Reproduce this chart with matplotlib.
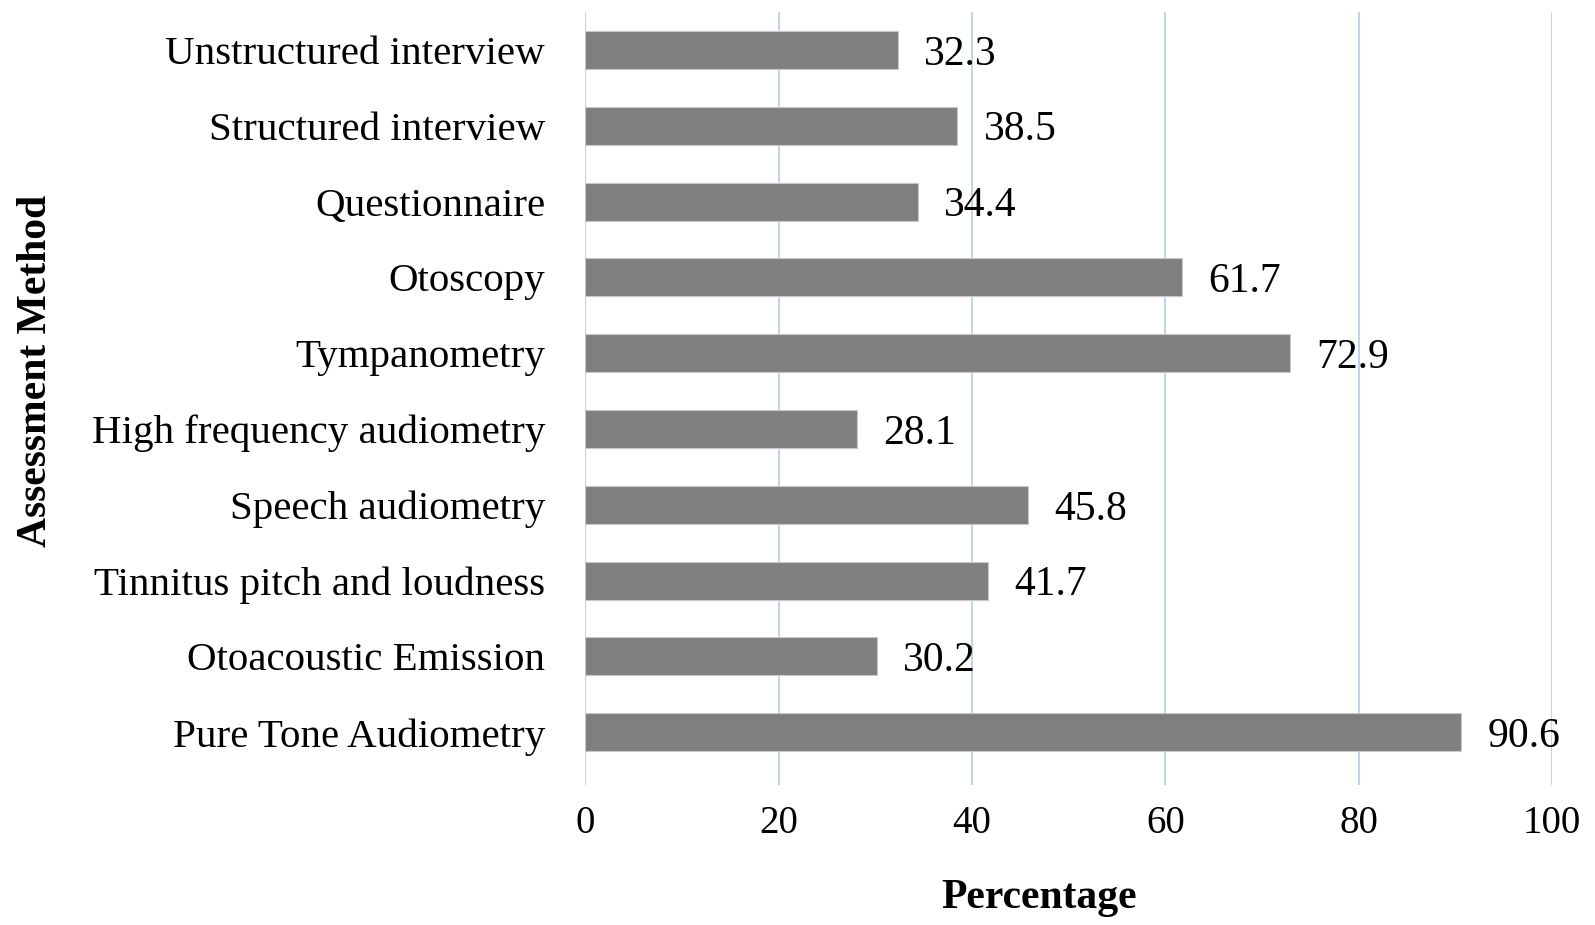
import matplotlib.pyplot as plt

methods = ["Pure Tone Audiometry", "Otoacoustic Emission", "Tinnitus pitch and loudness",
           "Speech audiometry", "High frequency audiometry", "Tympanometry", "Otoscopy",
           "Questionnaire", "Structured interview", "Unstructured interview"]
percent = [90.6, 30.2, 41.7, 45.8, 28.1, 72.9, 61.7, 34.4, 38.5, 32.3]
xticks = [0, 20, 40, 60, 80, 100]

plt.rcParams['font.family'] = ['Liberation Serif', 'DejaVu Serif']

fig = plt.figure(figsize=(15.95, 9.25), dpi=100)
ax = fig.add_axes([0.367, 0.151, 0.606, 0.836])

y = list(range(len(methods)))
ax.barh(y, percent, height=0.5, color="#7f7f7f", edgecolor="#c8c8c8", linewidth=0.8, zorder=3)
for yi, v in zip(y, percent):
    ax.text(v + 2.7, yi, f"{v:.1f}", va="center_baseline", ha="left", fontsize=30, color="black")

ax.set_xlim(0, 100)
ax.set_ylim(-0.7, 9.5)
ax.set_xticks(xticks)
ax.set_yticks(y)
ax.set_yticklabels(methods)
ax.tick_params(axis="both", length=0)
ax.tick_params(axis="x", pad=14, labelsize=28)
ax.tick_params(axis="y", pad=29, labelsize=29.5)
ax.grid(axis="x", color="#c3d6e8", linewidth=1.5, zorder=0)
for s in ax.spines.values():
    s.set_visible(False)

ax.set_xlabel("Percentage", fontsize=30, fontweight="bold", labelpad=27)
ax.xaxis.label.set_x(0.469)
ax.set_ylabel("Assessment Method", fontsize=30, fontweight="bold")
ax.yaxis.set_label_coords(-0.549, 0.536)

fig.savefig("out.png", dpi=100)
